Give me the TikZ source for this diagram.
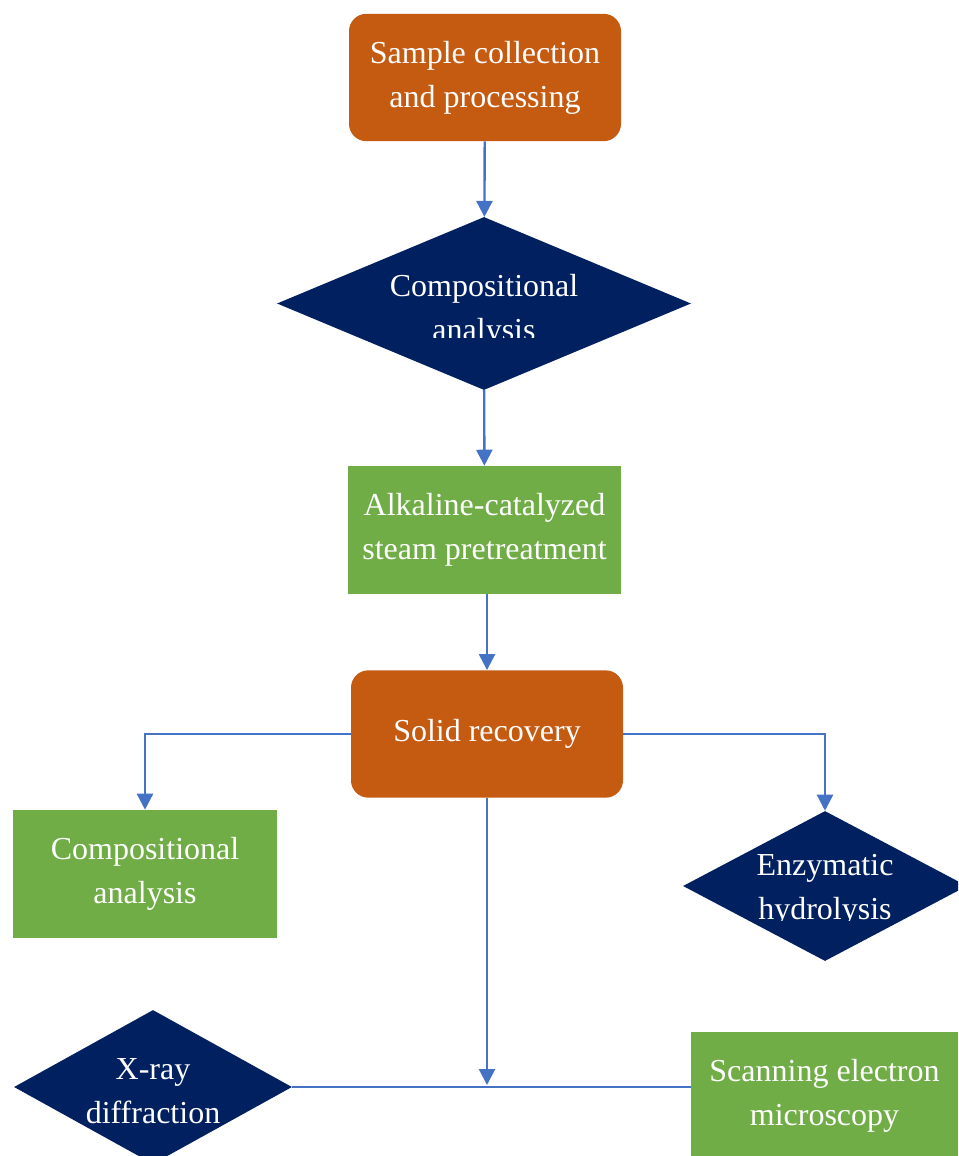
\documentclass[tikz,border=0pt]{standalone}
\usepackage{fontspec}
\setmainfont{Liberation Serif}
\usetikzlibrary{shapes.geometric, positioning, arrows.meta}
\definecolor{naranja}{HTML}{C55A11}
\definecolor{marino}{HTML}{002060}
\definecolor{verde}{HTML}{70AD47}
\definecolor{azul}{HTML}{4472C4}

\begin{document}
\begin{tikzpicture}[x=0.75pt, y=-0.75pt,
    texto/.style={text=white, font=\fontsize{24}{33}\selectfont, align=center},
    redondo/.style={texto, fill=naranja, rounded corners=13pt, minimum width=204pt, minimum height=95.5pt},
    caja/.style={texto, fill=verde, minimum height=96pt},
    rombo/.style={diamond, fill=marino, inner sep=0pt},
    flecha/.style={azul, line width=1.8pt, -{Triangle[width=12pt,length=12pt]}},
    linea/.style={azul, line width=1.3pt}]
    			\path[use as bounding box, clip] (0,0) rectangle (958,1156);
    			
    			% etapas
    			\node [redondo] (muestra) at (485,77.5) {Sample collection\\and processing};
    			\node [rombo, minimum width=310.5pt, minimum height=129.75pt] (comp) at (484,303.5) {};
    			\node [caja, minimum width=204.75pt] (alcalino) at (484.5,530) {Alkaline-catalyzed\\steam pretreatment};
    			\node [redondo] (solido) at (487,734) {Solid recovery};
    			\node [caja, minimum width=198pt] (compsol) at (145,874) {Compositional\\analysis};
    			\node [rombo, minimum width=213pt, minimum height=112.5pt] (enzima) at (825,886) {};
    			\node [rombo, minimum width=208.5pt, minimum height=115.5pt] (rayosx) at (153,1087) {};
    			\node [caja, minimum width=200.25pt] (sem) at (824.5,1096) {Scanning electron\\microscopy};
    			\coordinate (union) at (487,1085);
    			
    			% textos de los rombos
    			\begin{scope}
    			\clip (277,217) rectangle (691,337);
    			\node [texto] (comptxt) at (comp) [yshift=-5.5pt] {Compositional\\analysis};
    			\end{scope}
    			\begin{scope}
    			\clip (683,812) rectangle (958,920);
    			\node [texto] (enzimatxt) at (enzima) [yshift=-3pt] {Enzymatic\\hydrolysis};
    			\end{scope}
    			\node [texto] (rayosxtxt) at (rayosx) [yshift=-3pt] {X-ray\\diffraction};
    			
    			% conexiones
    			\draw [flecha] (muestra) -- (comp);
    			\draw [flecha] (comp) -- (alcalino);
    			\draw [flecha] (solido.north |- alcalino.south) -- (solido);
    			\draw [flecha] (solido.west) -| (compsol.north);
    			\draw [flecha] (solido.east) -| (enzima.north);
    			\draw [flecha] (solido) -- (union);
    			\draw [linea] (rayosx.east) -- (rayosx.east -| sem.west);
    			\end{tikzpicture}
\end{document}
